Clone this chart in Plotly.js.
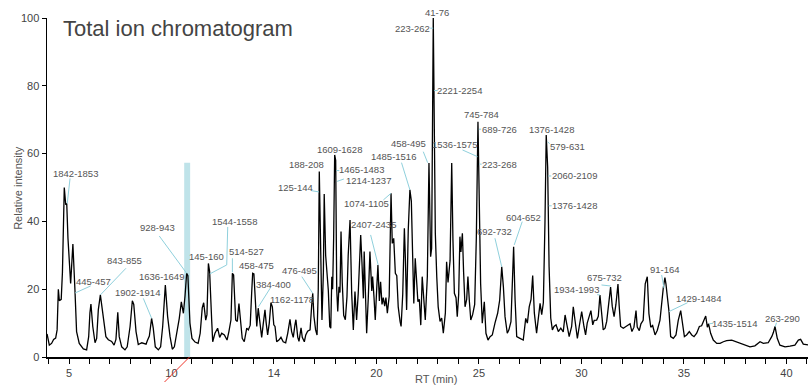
<!DOCTYPE html>
<html>
<head>
<meta charset="utf-8">
<script src="https://cdn.plot.ly/plotly-3.0.1.min.js"></script>
<style>
  html, body { margin: 0; padding: 0; background: #fff; overflow: hidden; }
  #chart { width: 808px; height: 385px; }
</style>
</head>
<body>
<div id="chart"></div>
<script>
// Retention time (min) and relative intensity (%) of the total ion current
const retentionTime = [
  3.93, 4.04, 4.15, 4.25, 4.35, 4.42, 4.48, 4.53, 4.62, 4.68, 4.77, 4.84, 4.89, 4.95, 5.08, 5.19, 5.29, 5.37, 5.50, 5.70,
  5.86, 5.96, 6.02, 6.07, 6.16, 6.27, 6.35, 6.43, 6.53, 6.60, 6.71, 6.80, 6.92, 7.08, 7.20, 7.29, 7.38, 7.45, 7.57, 7.73,
  7.84, 7.98, 8.09, 8.16, 8.27, 8.38, 8.55, 8.76, 8.82, 8.92, 9.03, 9.11, 9.21, 9.36, 9.47, 9.57, 9.70, 9.81, 9.93, 10.04,
  10.14, 10.28, 10.38, 10.48, 10.58, 10.66, 10.74, 10.80, 10.90, 11.00, 11.15, 11.30, 11.40, 11.50, 11.57, 11.67, 11.73, 11.80, 11.86, 11.96,
  12.01, 12.12, 12.25, 12.35, 12.45, 12.58, 12.71, 12.80, 12.90, 12.97, 13.03, 13.13, 13.21, 13.29, 13.36, 13.45, 13.55, 13.67, 13.75, 13.84,
  13.91, 13.96, 14.02, 14.11, 14.16, 14.23, 14.32, 14.40, 14.48, 14.56, 14.62, 14.69, 14.77, 14.85, 14.92, 14.99, 15.05, 15.13, 15.24, 15.34,
  15.45, 15.57, 15.67, 15.78, 15.86, 15.94, 16.02, 16.07, 16.16, 16.22, 16.32, 16.38, 16.48, 16.55, 16.64, 16.76, 16.84, 16.89, 16.95, 17.03,
  17.10, 17.16, 17.21, 17.28, 17.34, 17.41, 17.45, 17.52, 17.59, 17.65, 17.72, 17.77, 17.82, 17.86, 17.91, 17.96, 18.01, 18.06, 18.11, 18.17,
  18.22, 18.27, 18.33, 18.40, 18.48, 18.56, 18.62, 18.71, 18.79, 18.87, 18.95, 19.03, 19.11, 19.23, 19.29, 19.36, 19.40, 19.47, 19.52, 19.60,
  19.68, 19.77, 19.81, 19.88, 19.94, 20.01, 20.07, 20.14, 20.20, 20.27, 20.33, 20.40, 20.46, 20.53, 20.62, 20.71, 20.77, 20.84, 20.92, 20.99,
  21.06, 21.15, 21.20, 21.28, 21.36, 21.41, 21.47, 21.55, 21.63, 21.70, 21.77, 21.82, 21.89, 21.96, 22.02, 22.09, 22.16, 22.23, 22.30, 22.38,
  22.48, 22.56, 22.64, 22.69, 22.77, 22.82, 22.87, 22.94, 23.01, 23.10, 23.18, 23.26, 23.36, 23.42, 23.49, 23.59, 23.67, 23.73, 23.80, 23.88,
  23.94, 24.01, 24.07, 24.12, 24.19, 24.25, 24.32, 24.40, 24.46, 24.53, 24.60, 24.69, 24.79, 24.87, 24.95, 25.00, 25.08, 25.16, 25.26, 25.34,
  25.44, 25.54, 25.65, 25.78, 25.91, 26.01, 26.11, 26.19, 26.27, 26.38, 26.46, 26.56, 26.62, 26.69, 26.76, 26.84, 27.00, 27.16, 27.28, 27.36,
  27.45, 27.54, 27.62, 27.70, 27.81, 27.89, 27.98, 28.06, 28.14, 28.22, 28.28, 28.35, 28.42, 28.50, 28.58, 28.66, 28.76, 28.87, 28.99, 29.11,
  29.20, 29.29, 29.40, 29.52, 29.60, 29.68, 29.80, 29.89, 30.01, 30.12, 30.20, 30.28, 30.38, 30.46, 30.55, 30.62, 30.74, 30.82, 30.90, 30.99,
  31.06, 31.15, 31.23, 31.31, 31.42, 31.50, 31.59, 31.68, 31.78, 31.84, 31.91, 32.04, 32.17, 32.28, 32.37, 32.46, 32.56, 32.66, 32.72, 32.82,
  32.90, 33.01, 33.11, 33.21, 33.29, 33.38, 33.47, 33.59, 33.70, 33.83, 33.91, 33.99, 34.07, 34.12, 34.19, 34.27, 34.35, 34.48, 34.61, 34.72,
  34.84, 34.94, 35.02, 35.13, 35.26, 35.38, 35.49, 35.62, 35.75, 35.86, 35.98, 36.06, 36.14, 36.20, 36.30, 36.43, 36.60, 36.76, 36.92, 37.08,
  37.33, 37.57, 37.73, 37.98, 38.22, 38.46, 38.71, 38.87, 39.11, 39.28, 39.36, 39.44, 39.55, 39.68, 39.93, 40.17, 40.41, 40.58, 40.69, 40.82,
  40.99, 41.05
];

const relIntensity = [
  6.8, 3.5, 4.0, 5.2, 5.6, 8.0, 20.0, 16.6, 17.0, 25.0, 50.0, 44.9, 45.3, 35.0, 21.7, 33.3, 19.8, 7.5, 4.0, 2.4,
  2.1, 6.0, 13.0, 15.6, 9.0, 4.2, 5.5, 13.9, 18.3, 15.5, 10.0, 6.0, 5.1, 4.6, 3.5, 5.2, 13.2, 6.0, 3.0, 2.1,
  3.0, 9.0, 16.6, 15.5, 7.5, 3.7, 4.2, 3.8, 4.8, 6.2, 11.4, 8.5, 3.0, 2.1, 3.0, 9.0, 21.2, 12.0, 6.0, 2.3,
  3.0, 8.0, 11.4, 16.3, 12.9, 18.0, 24.7, 24.0, 10.0, 5.5, 4.4, 4.0, 7.0, 14.5, 16.0, 10.9, 12.5, 27.6, 25.2, 10.9,
  4.5, 7.0, 8.5, 5.8, 7.0, 6.5, 5.0, 7.5, 10.9, 24.7, 24.2, 10.9, 10.5, 15.8, 11.5, 5.5, 4.5, 8.5, 8.0, 9.4,
  18.8, 24.7, 24.5, 14.8, 9.0, 14.4, 10.5, 5.8, 10.0, 13.9, 10.0, 6.5, 10.0, 16.0, 14.8, 9.5, 9.0, 4.5, 5.0, 5.8,
  4.5, 4.2, 7.0, 11.1, 7.5, 5.8, 9.4, 11.0, 5.8, 4.6, 8.6, 5.8, 4.5, 6.5, 7.6, 8.0, 15.3, 18.8, 12.0, 8.0,
  6.5, 20.0, 54.7, 30.0, 10.9, 25.0, 48.1, 30.0, 24.5, 19.7, 9.0, 8.5, 23.7, 20.0, 35.0, 59.6, 58.0, 20.0, 13.4, 20.7,
  19.0, 37.0, 22.0, 12.3, 11.0, 17.8, 30.0, 40.4, 18.8, 8.0, 19.3, 10.9, 18.8, 36.0, 28.0, 17.3, 31.1, 12.9, 7.0, 17.5,
  31.1, 19.5, 23.7, 17.5, 10.9, 20.0, 27.1, 16.5, 22.2, 15.5, 17.5, 15.0, 17.5, 12.9, 18.0, 48.3, 33.5, 35.0, 24.7, 24.0,
  14.8, 10.5, 9.0, 18.5, 38.0, 29.0, 13.9, 37.5, 49.3, 46.0, 26.6, 15.8, 29.1, 23.0, 16.3, 17.0, 9.4, 23.7, 17.5, 10.9,
  23.7, 57.2, 29.6, 32.0, 100, 75.0, 36.5, 23.7, 14.8, 10.5, 11.5, 7.0, 13.0, 28.1, 22.0, 28.5, 57.2, 34.5, 18.8, 17.5,
  11.9, 18.5, 35.5, 31.0, 36.5, 25.0, 14.8, 17.0, 23.7, 16.5, 10.9, 12.5, 15.5, 35.0, 69.4, 51.3, 21.7, 10.0, 16.3, 7.0,
  5.0, 6.0, 6.5, 10.0, 12.9, 16.8, 26.6, 20.7, 11.9, 7.0, 8.0, 10.4, 20.7, 32.5, 17.0, 6.0, 5.5, 5.0, 11.4, 10.0,
  14.8, 17.0, 24.0, 13.0, 7.0, 10.5, 15.8, 12.5, 16.0, 40.0, 65.5, 56.0, 26.6, 11.5, 8.0, 9.0, 9.5, 7.5, 8.5, 7.4,
  12.4, 9.5, 6.0, 9.0, 14.8, 11.0, 5.5, 9.0, 13.4, 9.0, 6.5, 10.0, 12.5, 13.7, 9.5, 10.8, 10.9, 12.0, 18.3, 11.5,
  8.0, 8.5, 10.5, 14.8, 20.6, 15.0, 11.9, 15.5, 21.5, 15.0, 9.0, 8.5, 9.0, 9.4, 9.8, 7.5, 8.8, 13.7, 8.8, 7.8,
  9.8, 10.8, 21.6, 23.7, 12.8, 8.8, 9.3, 6.5, 7.9, 10.9, 16.8, 20.3, 23.4, 21.6, 17.7, 13.4, 6.0, 5.5, 6.5, 10.8,
  13.7, 8.8, 6.0, 6.5, 7.5, 6.5, 6.0, 7.0, 9.0, 9.2, 10.8, 12.1, 8.8, 9.8, 7.0, 5.0, 4.0, 4.0, 4.5, 4.8,
  5.0, 4.5, 4.0, 3.5, 3.0, 3.3, 4.5, 4.0, 4.2, 6.0, 7.2, 9.0, 5.5, 3.5, 3.0, 3.2, 3.5, 5.0, 5.2, 3.8,
  3.5, 3.6
];

// Axis ticks
const tickValues = [5, 10, 15, 20, 25, 30, 35, 40];
const tickLabels = ['5', '10', '14', '20', '25', '30', '35', '40'];
const yTickValues = [0, 20, 40, 60, 80, 100];

// Annotated peaks: scan range, retention time, intensity at the leader's end
const peakNames = [
  '1842-1853', '445-457', '843-855', '1902-1914', '1636-1649', '928-943', '145-160', '1544-1558',
  '514-527', '458-475', '384-400', '1162-1178', '476-495', '125-144', '188-208', '1609-1628',
  '1465-1483', '1214-1237', '1074-1105', '2407-2435', '1485-1516', '458-495', '41-76', '223-262',
  '2221-2254', '745-784', '689-726', '1536-1575', '223-268', '692-732', '604-652', '1376-1428',
  '579-631', '2060-2109', '1376-1428', '1934-1993', '675-732', '91-164', '1429-1484', '1435-1514',
  '263-290'
];
const peakRT = [
  4.89, 5.30, 6.53, 9.03, 9.70, 10.74, 11.80, 11.865,
  12.97, 13.96, 14.23, 16.84, 16.89, 17.20, 17.21, 17.96,
  18.014, 18.018, 20.71, 20.07, 21.63, 22.56, 22.77, 22.767,
  22.813, 24.95, 24.956, 24.926, 24.985, 26.11, 26.69, 28.28,
  28.295, 28.356, 28.377, 30.90, 31.42, 33.99, 34.27, 36.20,
  39.44
];
const peakIntensity = [
  45.3, 18.3, 18.3, 11.4, 21.2, 24.7, 27.6, 24.5,
  24.7, 24.7, 14.4, 15.3, 18.8, 47.8, 54.7, 59.6,
  55.0, 51.8, 48.3, 27.1, 49.3, 57.2, 100, 97.0,
  78.6, 69.4, 67.2, 59.1, 56.9, 26.6, 32.5, 65.5,
  63.5, 53.4, 44.6, 18.3, 20.6, 20.3, 13.4, 9.8,
  9.0
];

// ---- layout helpers ----
const FONT = 'Liberation Sans, Arial, Helvetica, sans-serif';
const LEADER_COLOR = '#8fd0dc';

// Label text offset from its peak (screen px, +y down) and leader polyline
const labelPlacement = [
  {dx: 9, dy: -29.8, leader: [[3.3, -25], [0.5, 0]]},
  {dx: 18.8, dy: -13.3, leader: [[15.5, -9], [0, -2]]},
  {dx: 24.6, dy: -34, leader: [[25.6, -26.7], [0, 0]]},
  {dx: -13.9, dy: -25.7, leader: [[-8.3, -20], [0, 0]]},
  {dx: -4.1, dy: -8.5, leader: null},
  {dx: -29.4, dy: -45.6, leader: [[-27.4, -37.3], [0, 0]]},
  {dx: -2.3, dy: -6.8, leader: null},
  {dx: 24.6, dy: -52.3, leader: [[18, -47], [17, -9], [0, 0]]},
  {dx: 14.4, dy: -21.6, leader: [[0, -15], [0, -1]]},
  {dx: 4.3, dy: -7.3, leader: null},
  {dx: 15.3, dy: -23.2, leader: [[12, -20], [0.3, -1.5]]},
  {dx: -19.9, dy: -6.1, leader: null},
  {dx: -13.3, dy: -22.6, leader: [[-10.9, -16.6], [0, 0]]},
  {dx: -23.4, dy: -7.3, leader: [[-7.7, -4.3], [0, -3]]},
  {dx: -12.6, dy: -6.6, leader: null},
  {dx: 4.6, dy: -5, leader: null},
  {dx: 25.9, dy: -0.6, leader: [[3.5, 0], [0.8, 0]]},
  {dx: 32.2, dy: -1.4, leader: [[8, -2.4], [1.2, 0]]},
  {dx: -25, dy: 10, leader: [[-7.7, 6.7], [0, 0]]},
  {dx: -4, dy: -40.2, leader: [[-7.3, -30.2], [0.3, 0]]},
  {dx: -16.8, dy: -33.2, leader: [[-8.4, -27.2], [0, 0]]},
  {dx: -20.7, dy: -19.1, leader: [[-5.7, -11.4], [-1.3, -0.4]]},
  {dx: 3.4, dy: -5.4, leader: null},
  {dx: -20.5, dy: 0, leader: [[-3, 0], [0, 0]]},
  {dx: 25.8, dy: 0, leader: [[3.5, 0], [0, 0]]},
  {dx: 3.5, dy: -6.8, leader: null},
  {dx: 21.7, dy: 0, leader: [[3, 0], [0.8, 0]]},
  {dx: -22.7, dy: -11.7, leader: [[-15, -6.7], [0, 0]]},
  {dx: 21.1, dy: 0, leader: [[3, 0], [0.5, 0]]},
  {dx: -6.8, dy: -35.2, leader: [[-6.8, -28.6], [0, 0]]},
  {dx: 9.6, dy: -29.6, leader: [[8.6, -25.2], [0.6, -1.9]]},
  {dx: 5.5, dy: -5.7, leader: null},
  {dx: 21.2, dy: 4.9, leader: [[3, 2], [1.2, 0]]},
  {dx: 26.5, dy: 0, leader: [[3.5, 0], [0.5, 0]]},
  {dx: 26.1, dy: 0, leader: [[3.5, 0], [0.5, 0]]},
  {dx: -23.4, dy: -5, leader: [[-2.8, -0.3], [0, 0]]},
  {dx: -6.5, dy: -9.7, leader: [[-9.1, -2.2], [0, -1.2]]},
  {dx: 1.7, dy: -18.2, leader: [[-1.6, -13.2], [0.7, 0]]},
  {dx: 29.2, dy: -13.3, leader: [[18.6, -8.9], [0, 0]]},
  {dx: 26.3, dy: -0.5, leader: [[4.6, -0.5], [0.6, 0]]},
  {dx: 7.5, dy: -8.2, leader: [[1.5, -3.8], [0.2, 0.2]]}
];

// Highlighted acquisition window
const shapes = [{
  type: 'rect', xref: 'x', yref: 'y', layer: 'below',
  x0: 10.62, x1: 10.91, y0: 0, y1: 57.3,
  fillcolor: '#bfe3e9', line: {width: 0}
}];

const annotations = [];

peakNames.forEach((name, i) => {
  const p = labelPlacement[i];
  annotations.push({
    x: peakRT[i], y: peakIntensity[i], xref: 'x', yref: 'y',
    text: name, showarrow: false,
    xshift: p.dx, yshift: -p.dy, xanchor: 'center', yanchor: 'middle',
    font: {family: FONT, size: 9.5, color: '#555'}
  });
  if (p.leader) {
    const path = p.leader.map((pt, k) => (k ? 'L' : 'M') + pt[0] + ',' + (-pt[1])).join(' ');
    shapes.push({
      type: 'path', xref: 'x', yref: 'y',
      xsizemode: 'pixel', ysizemode: 'pixel',
      xanchor: peakRT[i], yanchor: peakIntensity[i],
      path: path, line: {color: LEADER_COLOR, width: 1}
    });
  }
});

// Red marker below the axis at the highlighted window
annotations.push({
  x: 10.88, y: 0, xref: 'x', yref: 'y', text: ' ',
  showarrow: true, arrowhead: 0, arrowwidth: 1, arrowcolor: '#f0352a',
  ax: -28, ay: 44, standoff: 0
});

// Axis titles
annotations.push({
  xref: 'paper', yref: 'paper', x: -0.039, y: 0.5, text: 'Relative intensity',
  textangle: -90, showarrow: false, xanchor: 'center', yanchor: 'middle',
  font: {family: FONT, size: 11, color: '#555'}
});
annotations.push({
  xref: 'paper', yref: 'paper', x: 0.511, y: -0.065, text: 'RT (min)',
  showarrow: false, xanchor: 'center', yanchor: 'middle',
  font: {family: FONT, size: 11, color: '#555'}
});

const trace = {
  x: retentionTime, y: relIntensity,
  type: 'scatter', mode: 'lines',
  line: {color: '#000', width: 1.3},
  hoverinfo: 'skip'
};

const layout = {
  width: 808, height: 385,
  margin: {l: 47, r: 0, t: 18, b: 28},
  paper_bgcolor: '#fff', plot_bgcolor: '#fff',
  showlegend: false,
  title: {
    text: 'Total ion chromatogram',
    font: {family: FONT, size: 22, color: '#444'},
    xref: 'container', x: 0.078, xanchor: 'left',
    yref: 'container', y: 0.926, yanchor: 'middle'
  },
  xaxis: {
    range: [3.927, 41.05],
    tickmode: 'array', tickvals: tickValues, ticktext: tickLabels,
    ticks: 'outside', ticklen: 5, tickwidth: 1, tickcolor: '#000',
    minor: {ticks: 'outside', ticklen: 5, tickwidth: 1, tickcolor: '#000', tickmode: 'linear', tick0: 0, dtick: 1},
    showline: true, linecolor: '#000', linewidth: 1.5,
    showgrid: false, zeroline: false,
    tickfont: {family: FONT, size: 11, color: '#444'}
  },
  yaxis: {
    range: [0, 100],
    tickmode: 'array', tickvals: yTickValues,
    ticks: 'outside', ticklen: 4, tickwidth: 1, tickcolor: '#000',
    showline: true, linecolor: '#000', linewidth: 1.5,
    showgrid: false, zeroline: false,
    tickfont: {family: FONT, size: 11, color: '#444'}
  },
  shapes: shapes,
  annotations: annotations
};

Plotly.newPlot('chart', [trace], layout, {displayModeBar: false, staticPlot: true});
</script>
</body>
</html>
